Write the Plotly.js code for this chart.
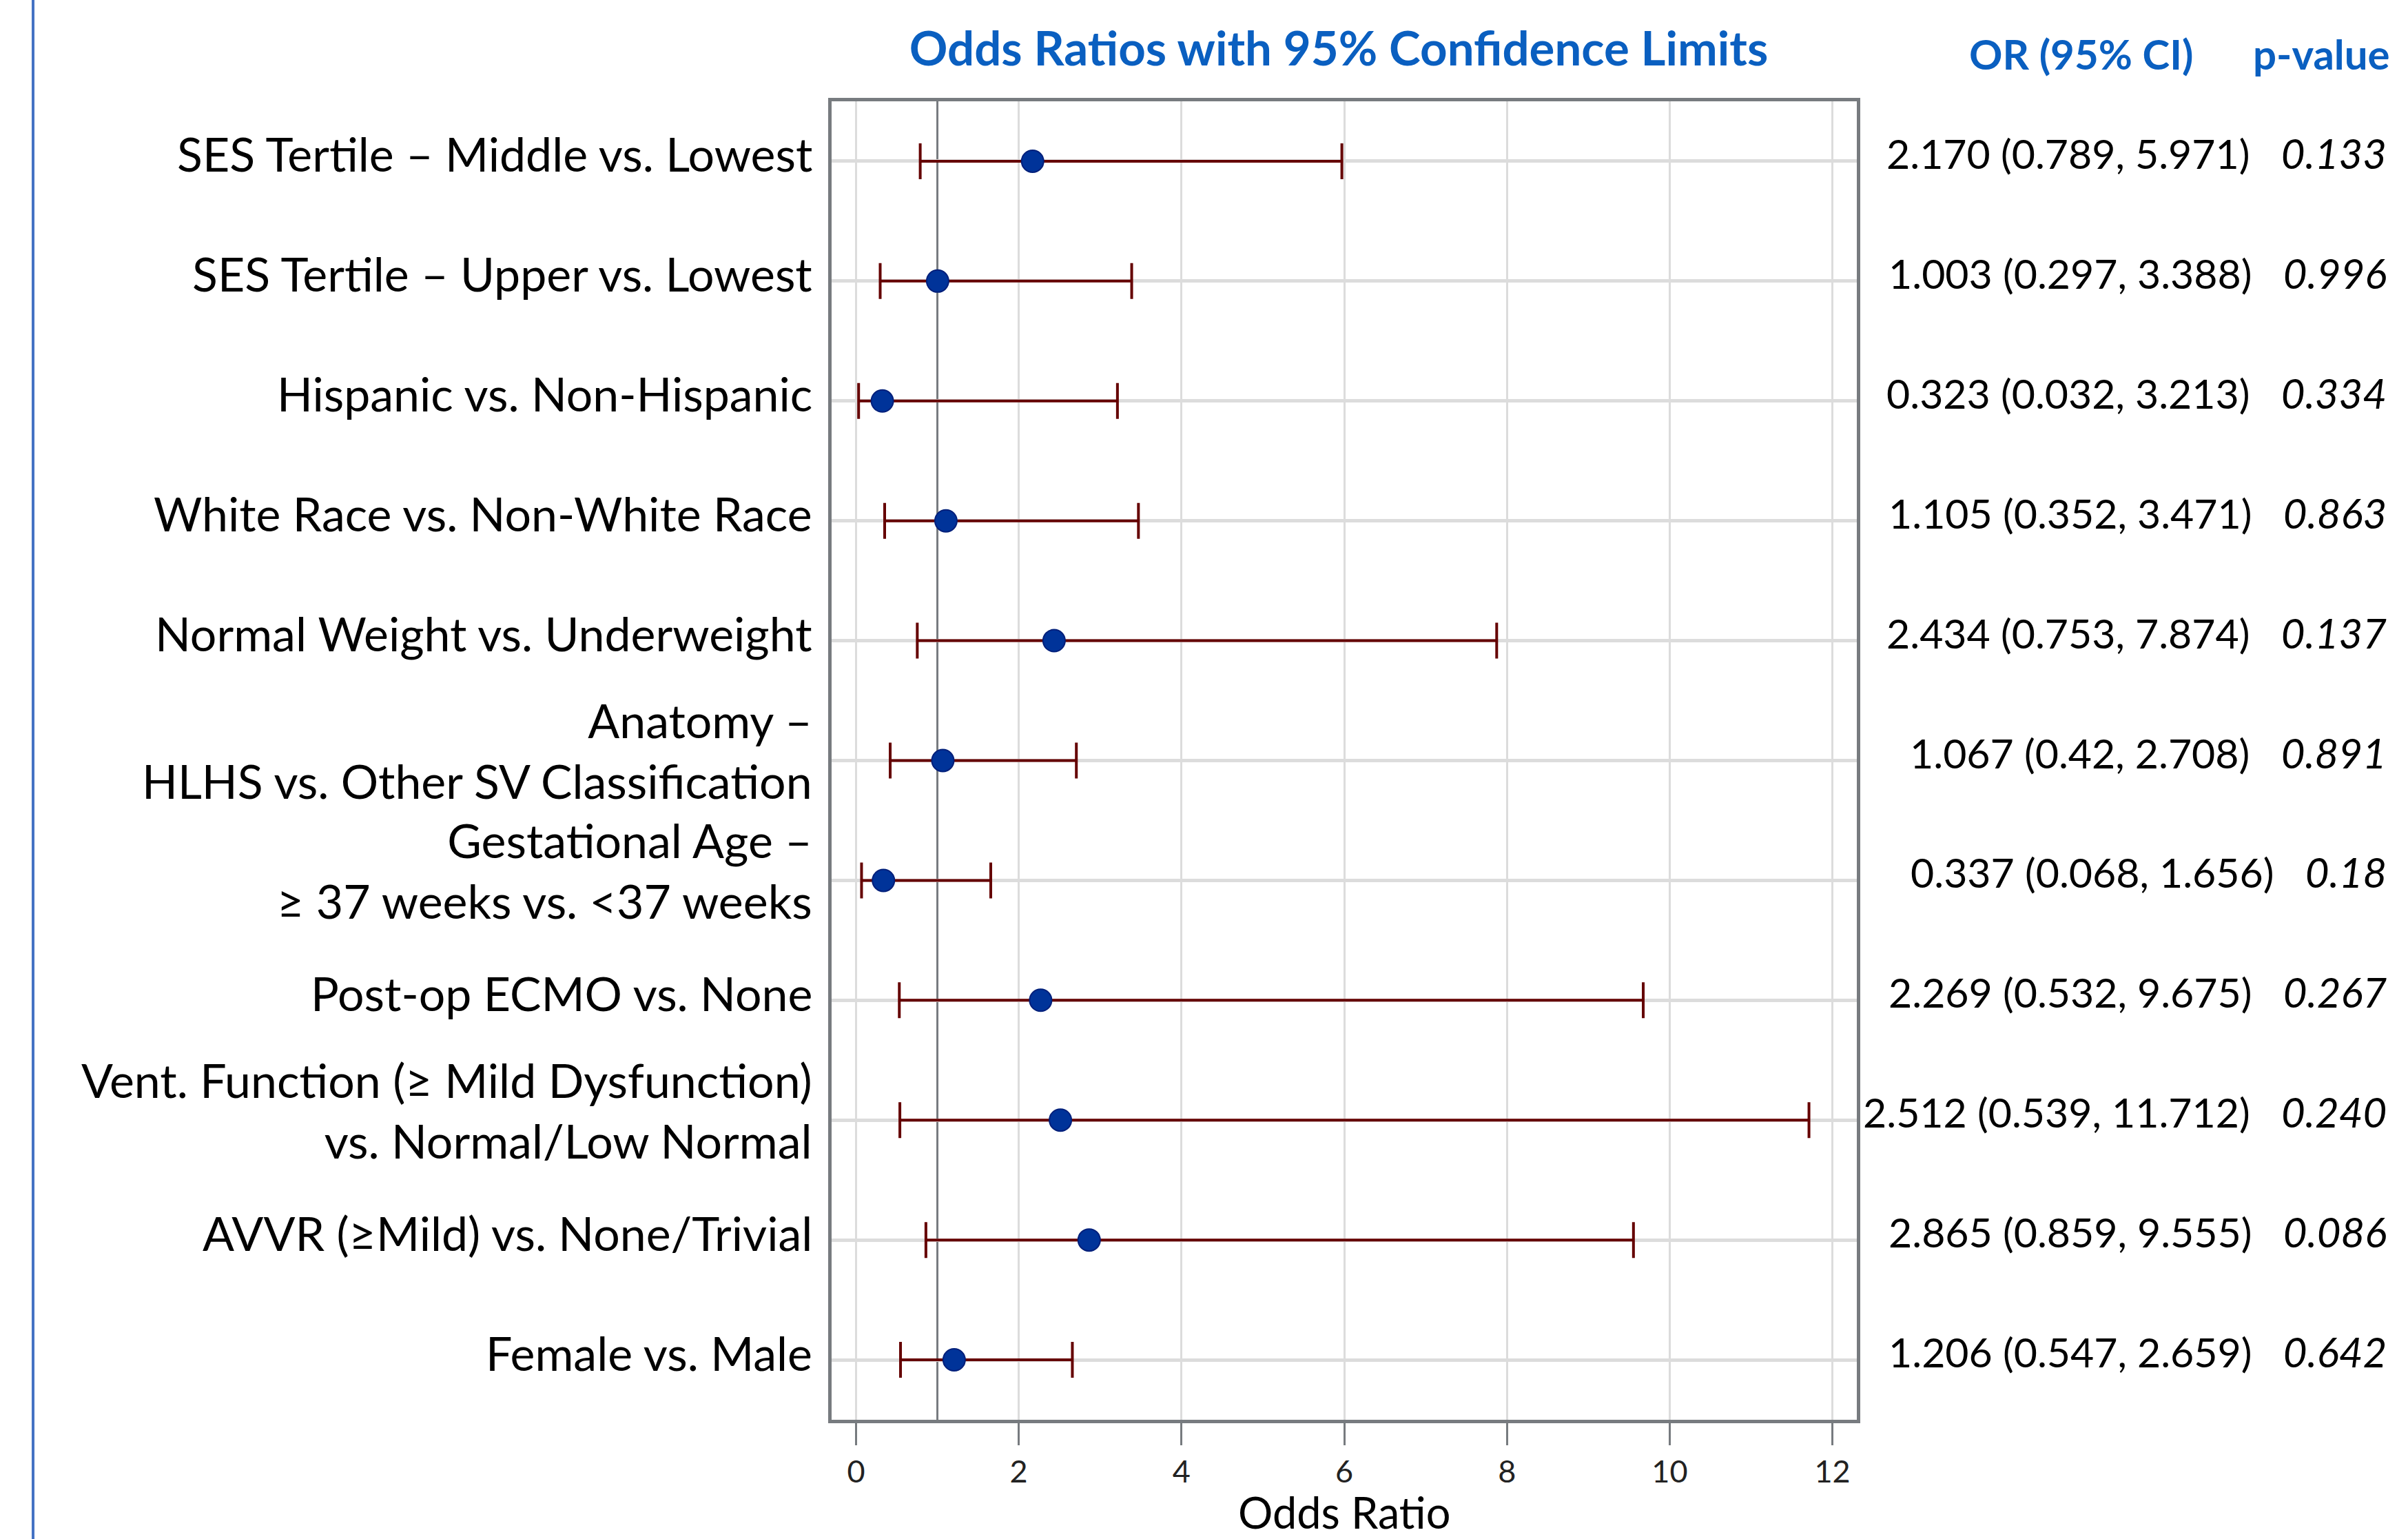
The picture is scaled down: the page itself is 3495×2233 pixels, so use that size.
<!DOCTYPE html>
<html>
<head>
<meta charset="utf-8">
<script src="https://cdn.plot.ly/plotly-3.0.1.min.js"></script>
<style>html,body{margin:0;padding:0;background:#fff;}#chart{width:3495px;height:2233px;}</style>
</head>
<body>
<div id="chart"></div>
<script>
// ---- data ----
const labels = [
  "SES Tertile \u2013 Middle vs. Lowest",
  "SES Tertile \u2013 Upper vs. Lowest",
  "Hispanic vs. Non-Hispanic",
  "White Race vs. Non-White Race",
  "Normal Weight vs. Underweight",
  "Anatomy \u2013<br>HLHS vs. Other SV Classification",
  "Gestational Age \u2013<br>\u2265 37 weeks vs. <37 weeks",
  "Post-op ECMO vs. None",
  "Vent. Function (\u2265 Mild Dysfunction)<br>vs. Normal/Low Normal",
  "AVVR (\u2265Mild) vs. None/Trivial",
  "Female vs. Male"
];
const orStr   = ["2.170","1.003","0.323","1.105","2.434","1.067","0.337","2.269","2.512","2.865","1.206"];
const lowStr  = ["0.789","0.297","0.032","0.352","0.753","0.42","0.068","0.532","0.539","0.859","0.547"];
const highStr = ["5.971","3.388","3.213","3.471","7.874","2.708","1.656","9.675","11.712","9.555","2.659"];
const pStr    = ["0.133","0.996","0.334","0.863","0.137","0.891","0.18","0.267","0.240","0.086","0.642"];
const xTicks  = [0, 2, 4, 6, 8, 10, 12];
const titleText = "Odds Ratios with 95% Confidence Limits";
const xTitle = "Odds Ratio";
const headerCI = "OR (95% CI)";
const headerP = "p-value";

// ---- derived ----
const orVals = orStr.map(parseFloat);
const lowVals = lowStr.map(parseFloat);
const highVals = highStr.map(parseFloat);
const esc = s => s.split("<br>").map(t => t.replace(/&/g,'&amp;').replace(/</g,'&lt;').replace(/>/g,'&gt;')).join("<br>");

const FONT = "Lato, 'Open Sans', sans-serif";
const BLUE = "#0a5fc0";
const BORDER = "#777b7f";

const trace = {
  type: "scatter",
  mode: "markers",
  x: orVals,
  y: labels,
  marker: {size: 32, color: "#003399", line: {color: "#001f7a", width: 2}},
  error_x: {
    type: "data",
    symmetric: false,
    array: highVals.map((h, i) => h - orVals[i]),
    arrayminus: lowVals.map((l, i) => orVals[i] - l),
    color: "#650000",
    thickness: 4,
    width: 26
  },
  hoverinfo: "skip",
  cliponaxis: false
};

const annotations = [];
labels.forEach((lab, i) => {
  const multi = lab.indexOf("<br>") >= 0;
  annotations.push({
    xref: "paper", x: 0, xshift: -26, xanchor: "right", align: "right",
    yref: "y", y: i, yanchor: "middle",
    yshift: multi ? 15 : 11,
    text: esc(lab), showarrow: false,
    font: {family: FONT, size: 68, color: "#000"}
  });
  annotations.push({
    xref: "paper", x: 1, xshift: 771, xanchor: "right",
    yref: "y", y: i, yanchor: "middle", yshift: 12,
    text: orStr[i] + " (" + lowStr[i] + ", " + highStr[i] + ")\u00a0\u00a0 <i><span style=\"font-size:60px\">" + pStr[i] + "</span></i>",
    showarrow: false,
    font: {family: FONT, size: 59, color: "#000"}
  });
});
annotations.push({
  xref: "paper", x: 1, xshift: 325, xanchor: "center",
  yref: "paper", y: 1, yshift: 69, yanchor: "middle",
  text: "<b>" + headerCI + "</b>", showarrow: false,
  font: {family: FONT, size: 60, color: BLUE}
});
annotations.push({
  xref: "paper", x: 1, xshift: 776, xanchor: "right",
  yref: "paper", y: 1, yshift: 69, yanchor: "middle",
  text: "<b>" + headerP + "</b>", showarrow: false,
  font: {family: FONT, size: 60, color: BLUE}
});
// x-axis title
annotations.push({
  xref: "paper", x: 0.5, xanchor: "center",
  yref: "paper", y: 0, yshift: -133, yanchor: "middle",
  text: xTitle, showarrow: false,
  font: {family: FONT, size: 63, color: "#000"}
});

const layout = {
  width: 3495, height: 2233,
  margin: {l: 1207, r: 800, t: 147, b: 173, pad: 0},
  paper_bgcolor: "#fff", plot_bgcolor: "#fff",
  showlegend: false,
  font: {family: FONT, color: "#000"},
  title: {
    text: "<b>" + titleText + "</b>",
    x: 1943 / 3495, xanchor: "center", xref: "container",
    y: 1 - 71 / 2233, yanchor: "middle", yref: "container",
    font: {family: FONT, size: 69, color: BLUE}
  },
  xaxis: {
    range: [-0.3, 12.3],
    tickmode: "array", tickvals: xTicks,
    showgrid: true, gridcolor: "#dcdcdc", gridwidth: 3,
    zeroline: false,
    showline: true, mirror: true, linecolor: BORDER, linewidth: 5,
    ticks: "outside", ticklen: 32, tickwidth: 3, tickcolor: BORDER,
    tickfont: {family: FONT, size: 45, color: "#222"},
    automargin: false, fixedrange: true
  },
  yaxis: {
    type: "category",
    categoryorder: "array", categoryarray: labels,
    range: [labels.length - 0.5, -0.5],
    showgrid: true, gridcolor: "#dcdcdc", gridwidth: 5,
    zeroline: false, showticklabels: false, ticks: "",
    showline: true, mirror: true, linecolor: BORDER, linewidth: 5,
    automargin: false, fixedrange: true
  },
  shapes: [
    {type: "line", xref: "x", yref: "paper", x0: 1, x1: 1, y0: 0, y1: 1,
     line: {color: BORDER, width: 3}, layer: "between"},
    {type: "line", xref: "paper", yref: "paper", x0: -0.7789, x1: -0.7789, y0: -0.12, y1: 1.12,
     line: {color: "#4472c4", width: 4}, layer: "above"}
  ],
  annotations: annotations
};

Plotly.newPlot("chart", [trace], layout, {staticPlot: true, displayModeBar: false});
</script>
</body>
</html>
